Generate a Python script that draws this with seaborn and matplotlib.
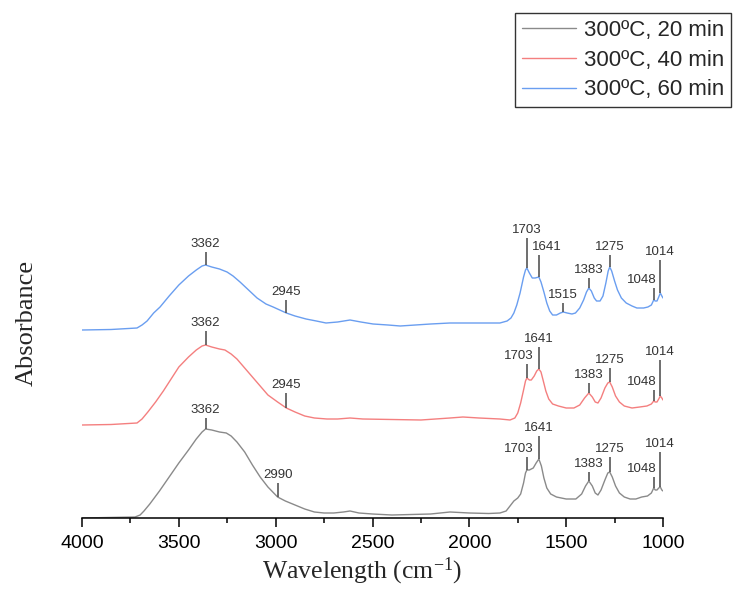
import numpy as np
import pandas as pd
import matplotlib
matplotlib.use("Agg")
import matplotlib.pyplot as plt
from matplotlib.ticker import MultipleLocator
import seaborn as sns

# ---------------- data ----------------
series_names = ["300ºC, 20 min", "300ºC, 40 min", "300ºC, 60 min"]
series_colors = ["#8a8a8a", "#f47f7f", "#6a9ef0"]

wn_20 = [4000, 3726, 3700, 3680, 3650, 3600, 3550, 3500, 3450, 3410, 3380, 3362,
         3330, 3290, 3255, 3230, 3200, 3160, 3120, 3080, 3040, 2990, 2950, 2900,
         2850, 2800, 2750, 2700, 2650, 2616, 2570, 2500, 2400, 2300, 2200, 2100,
         2000, 1900, 1842, 1810, 1790, 1770, 1750, 1735, 1720, 1710, 1703, 1690,
         1670, 1655, 1641, 1628, 1615, 1600, 1580, 1550, 1500, 1450, 1420, 1400,
         1383, 1365, 1350, 1336, 1320, 1300, 1285, 1275, 1262, 1245, 1225, 1200,
         1170, 1140, 1110, 1080, 1060, 1048, 1040, 1031, 1022, 1014, 1006, 1000]
abs_20 = [0.00, 0.01, 0.03, 0.07, 0.14, 0.27, 0.41, 0.55, 0.68, 0.79, 0.86, 0.89,
          0.88, 0.86, 0.85, 0.82, 0.76, 0.66, 0.53, 0.41, 0.31, 0.21, 0.17, 0.13,
          0.09, 0.06, 0.05, 0.05, 0.06, 0.07, 0.05, 0.04, 0.03, 0.035, 0.04, 0.06,
          0.05, 0.045, 0.05, 0.07, 0.12, 0.17, 0.20, 0.24, 0.35, 0.45, 0.48, 0.48,
          0.50, 0.55, 0.59, 0.52, 0.40, 0.30, 0.24, 0.21, 0.19, 0.19, 0.24, 0.32,
          0.37, 0.32, 0.25, 0.23, 0.28, 0.38, 0.45, 0.46, 0.41, 0.32, 0.25, 0.21,
          0.19, 0.19, 0.21, 0.22, 0.25, 0.30, 0.28, 0.28, 0.30, 0.31, 0.28, 0.27]

wn_40 = [4000, 3850, 3716, 3690, 3660, 3620, 3580, 3540, 3500, 3450, 3410, 3380,
         3362, 3330, 3290, 3262, 3230, 3200, 3160, 3120, 3080, 3040, 2990, 2945,
         2900, 2850, 2800, 2735, 2680, 2616, 2550, 2400, 2250, 2100, 2033, 1950,
         1842, 1790, 1765, 1750, 1735, 1720, 1710, 1703, 1690, 1680, 1665, 1652,
         1641, 1630, 1618, 1605, 1590, 1570, 1540, 1500, 1460, 1430, 1405, 1383,
         1365, 1350, 1336, 1320, 1300, 1285, 1275, 1262, 1245, 1225, 1200, 1160,
         1120, 1083, 1060, 1048, 1040, 1031, 1022, 1014, 1006, 1000]
abs_40 = [0.93, 0.935, 0.95, 0.99, 1.06, 1.16, 1.27, 1.39, 1.51, 1.61, 1.68, 1.72,
          1.73, 1.71, 1.69, 1.68, 1.64, 1.59, 1.50, 1.41, 1.32, 1.23, 1.16, 1.10,
          1.06, 1.02, 1.00, 0.99, 0.99, 1.00, 0.99, 0.985, 0.98, 1.00, 1.01, 1.00,
          0.99, 0.98, 1.00, 1.05, 1.15, 1.28, 1.37, 1.40, 1.38, 1.38, 1.42, 1.47,
          1.49, 1.46, 1.37, 1.27, 1.19, 1.14, 1.12, 1.10, 1.10, 1.13, 1.20, 1.25,
          1.21, 1.16, 1.15, 1.20, 1.30, 1.35, 1.36, 1.31, 1.22, 1.16, 1.12, 1.10,
          1.11, 1.12, 1.14, 1.17, 1.16, 1.16, 1.19, 1.22, 1.20, 1.18]

wn_60 = [4000, 3850, 3716, 3690, 3664, 3630, 3597, 3550, 3500, 3450, 3410, 3380,
         3362, 3330, 3290, 3251, 3220, 3184, 3140, 3096, 3050, 3013, 2945, 2900,
         2843, 2790, 2740, 2680, 2616, 2560, 2497, 2420, 2357, 2200, 2100, 2017,
         1900, 1842, 1805, 1785, 1770, 1755, 1738, 1720, 1710, 1703, 1690, 1675,
         1660, 1641, 1630, 1615, 1600, 1585, 1570, 1550, 1530, 1515, 1495, 1470,
         1452, 1430, 1410, 1395, 1383, 1370, 1355, 1343, 1325, 1310, 1295, 1283,
         1275, 1265, 1250, 1235, 1215, 1190, 1160, 1135, 1100, 1078, 1060, 1048,
         1040, 1031, 1022, 1014, 1006, 1000]
abs_60 = [1.88, 1.885, 1.90, 1.93, 1.97, 2.05, 2.11, 2.22, 2.33, 2.42, 2.48, 2.52,
          2.53, 2.51, 2.49, 2.46, 2.42, 2.36, 2.28, 2.20, 2.14, 2.11, 2.05, 2.02,
          1.99, 1.97, 1.95, 1.96, 1.98, 1.96, 1.94, 1.93, 1.92, 1.94, 1.95, 1.95,
          1.95, 1.95, 1.97, 2.00, 2.05, 2.13, 2.25, 2.41, 2.48, 2.50, 2.45, 2.40,
          2.40, 2.41, 2.36, 2.26, 2.15, 2.07, 2.03, 2.03, 2.05, 2.06, 2.05, 2.04,
          2.05, 2.10, 2.18, 2.26, 2.30, 2.27, 2.20, 2.17, 2.17, 2.22, 2.35, 2.47,
          2.51, 2.47, 2.37, 2.28, 2.20, 2.15, 2.12, 2.10, 2.10, 2.11, 2.13, 2.18,
          2.17, 2.17, 2.21, 2.25, 2.22, 2.20]

# peak labels (wavenumbers)
peaks_20 = [3362, 2990, 1703, 1641, 1383, 1275, 1048, 1014]
peaks_40 = [3362, 2945, 1703, 1641, 1383, 1275, 1048, 1014]
peaks_60 = [3362, 2945, 1703, 1641, 1515, 1383, 1275, 1048, 1014]

x_ticks = [4000, 3500, 3000, 2500, 2000, 1500, 1000]

# ---------------- label layout (stem length, label x-shift in pt) ----------------
stems_20 = [0.11, 0.14, 0.13, 0.23, 0.09, 0.15, 0.11, 0.35]
shift_20 = [0, 0, -6, 0, 0, 0, -8.5, 0]
stems_40 = [0.14, 0.15, 0.14, 0.22, 0.10, 0.14, 0.11, 0.36]
shift_40 = [0, 0, -6, 0, 0, 0, -8.5, 0]
stems_60 = [0.13, 0.13, 0.30, 0.22, 0.09, 0.10, 0.12, 0.12, 0.33]
shift_60 = [0, 0, 0, 6, 0, 0, 0, -8.5, 0]

# ---------------- build frame ----------------
frames = []
for name, wn, ab in zip(series_names, [wn_20, wn_40, wn_60], [abs_20, abs_40, abs_60]):
    frames.append(pd.DataFrame({"Wavenumber": wn, "Absorbance": ab, "Sample": name}))
df = pd.concat(frames, ignore_index=True)

sns.set_style("ticks")
plt.rcParams["font.family"] = ["Liberation Sans", "DejaVu Sans"]
plt.rcParams["mathtext.default"] = "regular"

fig = plt.figure(figsize=(7.36, 6.02), dpi=100)
ax = fig.add_axes([82 / 736, 1 - 518 / 602, (663 - 82) / 736, (518 - 150) / 602])

sns.lineplot(data=df, x="Wavenumber", y="Absorbance", hue="Sample",
             hue_order=series_names, palette=dict(zip(series_names, series_colors)),
             estimator=None, sort=False, linewidth=1.0, ax=ax)

# peak annotations
for wn, ab, peaks, stems, shifts in [
        (wn_20, abs_20, peaks_20, stems_20, shift_20),
        (wn_40, abs_40, peaks_40, stems_40, shift_40),
        (wn_60, abs_60, peaks_60, stems_60, shift_60)]:
    xs = np.array(wn[::-1], dtype=float)
    ys = np.array(ab[::-1], dtype=float)
    for p, st, sh in zip(peaks, stems, shifts):
        v = float(np.interp(p, xs, ys))
        ax.vlines(p, v, v + st, color="#555555", linewidth=1.2, zorder=3)
        ax.annotate(str(p), xy=(p, v + st), xytext=(sh, 1.5),
                    textcoords="offset points", ha="center", va="bottom",
                    fontsize=9.5, color="#333333")

ax.set_xlim(4000, 1000)
ax.set_ylim(0, 3.68)
ax.set_xticks(x_ticks)
ax.set_xticklabels([str(t) for t in x_ticks])
ax.xaxis.set_minor_locator(MultipleLocator(250))
ax.set_yticks([])
sns.despine(ax=ax, left=True)
ax.spines["bottom"].set_linewidth(1.1)
ax.spines["bottom"].set_color("black")
ax.tick_params(axis="x", which="major", length=6.5, width=1.1, direction="out",
               labelsize=14, pad=5.5, color="black", labelcolor="black")
ax.tick_params(axis="x", which="minor", length=3.5, width=1.1, direction="out",
               color="black")

ax.set_xlabel("Wavelength (cm$^{-1}$)", fontfamily="Liberation Serif", fontsize=18.5)
ax.xaxis.set_label_coords(0.482, -0.101)
ax.set_ylabel("Absorbance", fontfamily="Liberation Serif", fontsize=19)
ax.yaxis.set_label_coords(-0.076, 0.53)

handles, labels = ax.get_legend_handles_labels()
if ax.get_legend() is not None:
    ax.get_legend().remove()
leg = fig.legend(handles, labels, loc="upper left", bbox_to_anchor=(515 / 736, 1 - 13 / 602),
                 fontsize=16, frameon=True, fancybox=False, framealpha=1,
                 edgecolor="#333333", borderpad=0.3, labelspacing=0.4,
                 handlelength=2.45, handletextpad=0.36, borderaxespad=0)
leg.get_frame().set_linewidth(1.0)
for h in leg.get_lines():
    h.set_linewidth(1.0)

fig.savefig("out.png", dpi=100)
